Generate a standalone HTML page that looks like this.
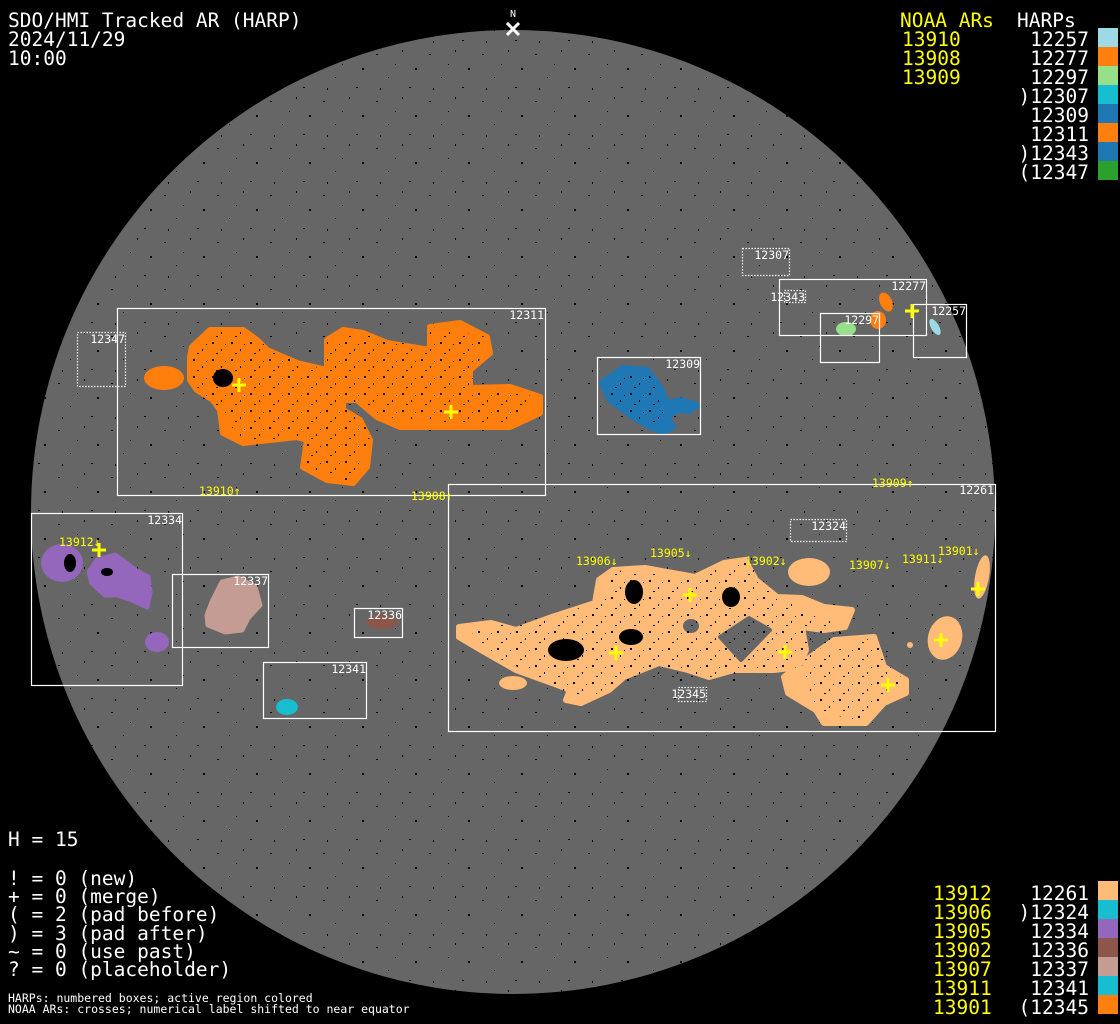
<!DOCTYPE html>
<html><head><meta charset="utf-8"><style>
html,body{margin:0;padding:0;background:#000;width:1120px;height:1024px;overflow:hidden}
svg{display:block}
text{font-family:"DejaVu Sans Mono","Liberation Mono",monospace}
.t{fill:#fff;font-size:19.5px}
.y{fill:#ffff00;font-size:19.5px}
.l{fill:#fff;font-size:11.5px}
.yl{fill:#ffff00;font-size:11.5px}
.s{fill:#fff;font-size:11.5px}
.bx{fill:none;stroke:#fff;stroke-width:1.2}
.db{fill:none;stroke:#fff;stroke-width:1.2;stroke-dasharray:1.5 1.5}
.cr{stroke:#ffff00;stroke-width:3}
</style></head><body>
<svg width="1120" height="1024" viewBox="0 0 1120 1024" xmlns="http://www.w3.org/2000/svg">
<defs>
<pattern id="sp" width="53" height="47" patternUnits="userSpaceOnUse">
<rect x="5" y="7" width="2" height="1" fill="#000"/>
<rect x="31" y="3" width="1" height="2" fill="#000"/>
<rect x="44" y="21" width="2" height="2" fill="#000"/>
<rect x="17" y="30" width="1" height="1" fill="#000"/>
<rect x="38" y="40" width="2" height="1" fill="#000"/>
<rect x="9" y="41" width="1" height="2" fill="#000"/>
<rect x="24" y="17" width="1" height="1" fill="#000"/>
</pattern>
<pattern id="sd" width="19" height="17" patternUnits="userSpaceOnUse">
<rect x="3" y="2" width="2" height="2" fill="#000"/>
<rect x="12" y="9" width="1" height="2" fill="#000"/>
<rect x="7" y="13" width="2" height="1" fill="#000"/>
<rect x="16" y="4" width="1" height="1" fill="#000"/>
</pattern>
<clipPath id="dc"><circle cx="513" cy="512" r="482"/></clipPath>
</defs>
<rect width="1120" height="1024" fill="#000"/>
<circle cx="513" cy="512" r="482" fill="#666"/>
<rect width="1120" height="1024" fill="url(#sp)" clip-path="url(#dc)"/>

<g id="shapes">
<!-- 12311 orange -->
<ellipse cx="164" cy="378" rx="20" ry="12" fill="#ff7f0e"/>
<polygon fill="#ff7f0e" stroke="#ff7f0e" stroke-width="6" stroke-linejoin="round" points="192,347 210,330 243,330 257,340 267,350 297,363 327,370 327,340 343,330 363,333 387,343 430,350 430,327 460,323 487,337 490,353 470,370 470,388 510,387 540,397 540,413 510,427 470,427 400,427 377,417 357,400 343,400 343,410 360,420 370,440 367,467 353,483 327,480 303,467 307,440 297,437 270,440 243,443 223,433 220,410 213,400 197,390 190,380 190,357"/>
<!-- 12309 blue -->
<polygon fill="#1f77b4" stroke="#1f77b4" stroke-width="6" stroke-linejoin="round" points="602,383 623,368 647,370 660,387 667,403 680,400 697,405 690,411 677,410 667,417 673,427 663,432 650,427 633,417 610,400"/>
<!-- 12297 green -->
<ellipse cx="846" cy="329" rx="10" ry="7" fill="#98df8a"/>
<!-- 12277 orange -->
<ellipse cx="886" cy="302" rx="6" ry="10" transform="rotate(-25 886 302)" fill="#ff7f0e"/>
<ellipse cx="878" cy="320" rx="8" ry="9" fill="#ff7f0e"/>
<!-- 12257 -->
<ellipse cx="935" cy="327" rx="4" ry="9" transform="rotate(-30 935 327)" fill="#9edae5"/>
<!-- 12261 peach -->
<polygon fill="#ffbb78" stroke="#ffbb78" stroke-width="6" stroke-linejoin="round" points="459,627 491,623 516,630 552,617 595,603 599,580 613,570 645,568 695,577 724,563 745,560 756,580 777,597 802,598 824,607 852,610 845,627 824,630 802,627 806,650 799,667 774,670 734,670 709,677 688,670 659,663 624,677 609,690 581,703 566,700 570,690 552,683 516,670 481,650 459,637"/>
<ellipse cx="691" cy="626" rx="8" ry="7" fill="#666"/>
<polygon fill="#666" stroke="#666" stroke-width="4" stroke-linejoin="round" points="720,637 749,618 770,630 741,660"/>
<ellipse cx="513" cy="683" rx="14" ry="7" fill="#ffbb78"/>
<ellipse cx="809" cy="572" rx="21" ry="14" fill="#ffbb78"/>
<polygon fill="#ffbb78" stroke="#ffbb78" stroke-width="6" stroke-linejoin="round" points="784,677 802,663 834,640 874,637 884,667 906,680 906,693 884,703 866,723 824,723 816,710 788,693"/>
<ellipse cx="945" cy="638" rx="17" ry="22" transform="rotate(15 945 638)" fill="#ffbb78"/>
<ellipse cx="982" cy="577" rx="7" ry="22" transform="rotate(10 982 577)" fill="#ffbb78"/>
<circle cx="910" cy="645" r="3" fill="#ffbb78"/>
<!-- purple 12334 -->
<ellipse cx="62" cy="563" rx="21" ry="19" fill="#9467bd"/>
<polygon fill="#9467bd" stroke="#9467bd" stroke-width="5" stroke-linejoin="round" points="89,572 97,560 115,555 125,562 135,570 148,577 150,592 147,607 132,600 118,595 105,595 92,583"/>
<ellipse cx="157" cy="642" rx="12" ry="10" fill="#9467bd"/>
<!-- 12337 -->
<polygon fill="#c49c94" stroke="#c49c94" stroke-width="5" stroke-linejoin="round" points="207,615 212,602 222,582 238,578 255,587 260,605 248,618 242,630 225,632 208,625"/>
<ellipse cx="382" cy="622" rx="16" ry="7" fill="#8c564b"/>
<ellipse cx="287" cy="707" rx="11" ry="8" fill="#17becf"/>
</g>
<!-- speckles inside regions -->
<g fill="url(#sd)">
<polygon points="192,347 210,330 243,330 297,363 327,370 327,340 363,333 430,350 430,327 487,337 470,388 540,397 510,427 377,417 357,400 370,440 353,483 303,467 297,437 243,443 220,410 190,380"/>
<polygon points="470,628 552,617 595,603 613,570 695,577 745,560 777,597 845,627 799,667 709,677 624,677 581,703 552,683 481,650"/>
<polygon points="802,663 874,637 906,685 866,723 816,710"/>
<polygon points="605,383 647,370 667,410 650,427 610,400"/>
</g>
<g fill="#000">
<ellipse cx="223" cy="378" rx="10" ry="9"/>
<ellipse cx="634" cy="592" rx="9" ry="12"/>
<ellipse cx="731" cy="597" rx="9" ry="10"/>
<ellipse cx="566" cy="650" rx="18" ry="11"/>
<ellipse cx="631" cy="637" rx="12" ry="8"/>
<ellipse cx="70" cy="563" rx="6" ry="9"/>
<ellipse cx="107" cy="572" rx="6" ry="4"/>
</g>

<!-- boxes -->
<rect class="bx" x="117.5" y="308.5" width="428" height="187"/>
<rect class="db" x="77.5" y="332.5" width="48" height="54"/>
<rect class="bx" x="597.5" y="357.5" width="103" height="77"/>
<rect class="db" x="742.5" y="248.5" width="47" height="27"/>
<rect class="bx" x="779.5" y="279.5" width="147" height="56"/>
<rect class="db" x="784.5" y="290.5" width="21" height="12"/>
<rect class="bx" x="820.5" y="313.5" width="59" height="49"/>
<rect class="bx" x="913.5" y="304.5" width="53" height="53"/>
<rect class="bx" x="448.5" y="484.5" width="547" height="247"/>
<rect class="db" x="790.5" y="519.5" width="56" height="22"/>
<rect class="db" x="678.5" y="687.5" width="28" height="14"/>
<rect class="bx" x="31.5" y="513.5" width="151" height="172"/>
<rect class="bx" x="172.5" y="574.5" width="96" height="73"/>
<rect class="bx" x="354.5" y="608.5" width="48" height="29"/>
<rect class="bx" x="263.5" y="662.5" width="103" height="56"/>

<!-- box labels -->
<g class="l" text-anchor="end">
<text x="544" y="319">12311</text>
<text x="125" y="343">12347</text>
<text x="700" y="368">12309</text>
<text x="789" y="259">12307</text>
<text x="926" y="290">12277</text>
<text x="805" y="301">12343</text>
<text x="879" y="324">12297</text>
<text x="966" y="315">12257</text>
<text x="994" y="494">12261</text>
<text x="846" y="530">12324</text>
<text x="706" y="698">12345</text>
<text x="182" y="524">12334</text>
<text x="268" y="585">12337</text>
<text x="402" y="619">12336</text>
<text x="366" y="673">12341</text>
</g>
<!-- NOAA labels -->
<g class="yl">
<text x="199" y="495">13910↑</text>
<text x="411" y="500">13908↑</text>
<text x="872" y="487">13909↑</text>
<text x="576" y="565">13906↓</text>
<text x="650" y="557">13905↓</text>
<text x="745" y="565">13902↓</text>
<text x="849" y="569">13907↓</text>
<text x="902" y="563">13911↓</text>
<text x="938" y="555">13901↓</text>
<text x="59" y="546">13912↓</text>
</g>
<!-- crosses -->
<g class="cr">
<path d="M232 385h14M239 378v14"/>
<path d="M444 412h14M451 405v14"/>
<path d="M905 311h14M912 304v14"/>
<path d="M92 550h14M99 543v14"/>
<path d="M683 595h14M690 588v14"/>
<path d="M609 653h14M616 646v14"/>
<path d="M778 652h14M785 645v14"/>
<path d="M934 640h14M941 633v14"/>
<path d="M971 589h14M978 582v14"/>
<path d="M881 685h14M888 678v14"/>
</g>

<!-- N marker -->
<text x="513" y="17" fill="#fff" font-size="10" text-anchor="middle">N</text>
<path d="M507 23l12 12M519 23l-12 12" stroke="#fff" stroke-width="3"/>

<!-- title -->
<text class="t" x="8" y="27">SDO/HMI Tracked AR (HARP)</text>
<text class="t" x="8" y="46">2024/11/29</text>
<text class="t" x="8" y="65">10:00</text>

<!-- top-right legend -->
<text class="y" x="900" y="27">NOAA ARs</text>
<text class="t" x="1017" y="27">HARPs</text>
<g class="y"><text x="902" y="46">13910</text><text x="902" y="65">13908</text><text x="902" y="84">13909</text></g>
<g class="t" text-anchor="end">
<text x="1089" y="46">12257</text><text x="1089" y="65">12277</text><text x="1089" y="84">12297</text><text x="1089" y="103">)12307</text><text x="1089" y="122">12309</text><text x="1089" y="141">12311</text><text x="1089" y="160">)12343</text><text x="1089" y="179">(12347</text>
</g>
<rect x="1098" y="28" width="20" height="19" fill="#9edae5"/>
<rect x="1098" y="47" width="20" height="19" fill="#ff7f0e"/>
<rect x="1098" y="66" width="20" height="19" fill="#98df8a"/>
<rect x="1098" y="85" width="20" height="19" fill="#17becf"/>
<rect x="1098" y="104" width="20" height="19" fill="#1f77b4"/>
<rect x="1098" y="123" width="20" height="19" fill="#ff7f0e"/>
<rect x="1098" y="142" width="20" height="19" fill="#1f77b4"/>
<rect x="1098" y="161" width="20" height="19" fill="#2ca02c"/>

<!-- bottom-right legend -->
<g class="y">
<text x="933" y="900">13912</text><text x="933" y="919">13906</text><text x="933" y="938">13905</text><text x="933" y="957">13902</text><text x="933" y="976">13907</text><text x="933" y="995">13911</text><text x="933" y="1014">13901</text>
</g>
<g class="t" text-anchor="end">
<text x="1089" y="900">12261</text><text x="1089" y="919">)12324</text><text x="1089" y="938">12334</text><text x="1089" y="957">12336</text><text x="1089" y="976">12337</text><text x="1089" y="995">12341</text><text x="1089" y="1014">(12345</text>
</g>
<rect x="1098" y="881" width="20" height="19" fill="#ffbb78"/>
<rect x="1098" y="900" width="20" height="19" fill="#17becf"/>
<rect x="1098" y="919" width="20" height="19" fill="#9467bd"/>
<rect x="1098" y="938" width="20" height="19" fill="#8c564b"/>
<rect x="1098" y="957" width="20" height="19" fill="#c49c94"/>
<rect x="1098" y="976" width="20" height="19" fill="#17becf"/>
<rect x="1098" y="995" width="20" height="19" fill="#ff7f0e"/>

<!-- bottom-left legend -->
<text class="t" x="8" y="846">H = 15</text>
<text class="t" x="8" y="885">! = 0 (new)</text>
<text class="t" x="8" y="903">+ = 0 (merge)</text>
<text class="t" x="8" y="921">( = 2 (pad before)</text>
<text class="t" x="8" y="940">) = 3 (pad after)</text>
<text class="t" x="8" y="958">~ = 0 (use past)</text>
<text class="t" x="8" y="976">? = 0 (placeholder)</text>
<text class="s" x="8" y="1002">HARPs: numbered boxes; active region colored</text>
<text class="s" x="8" y="1013">NOAA ARs: crosses; numerical label shifted to near equator</text>
</svg>
</body></html>
